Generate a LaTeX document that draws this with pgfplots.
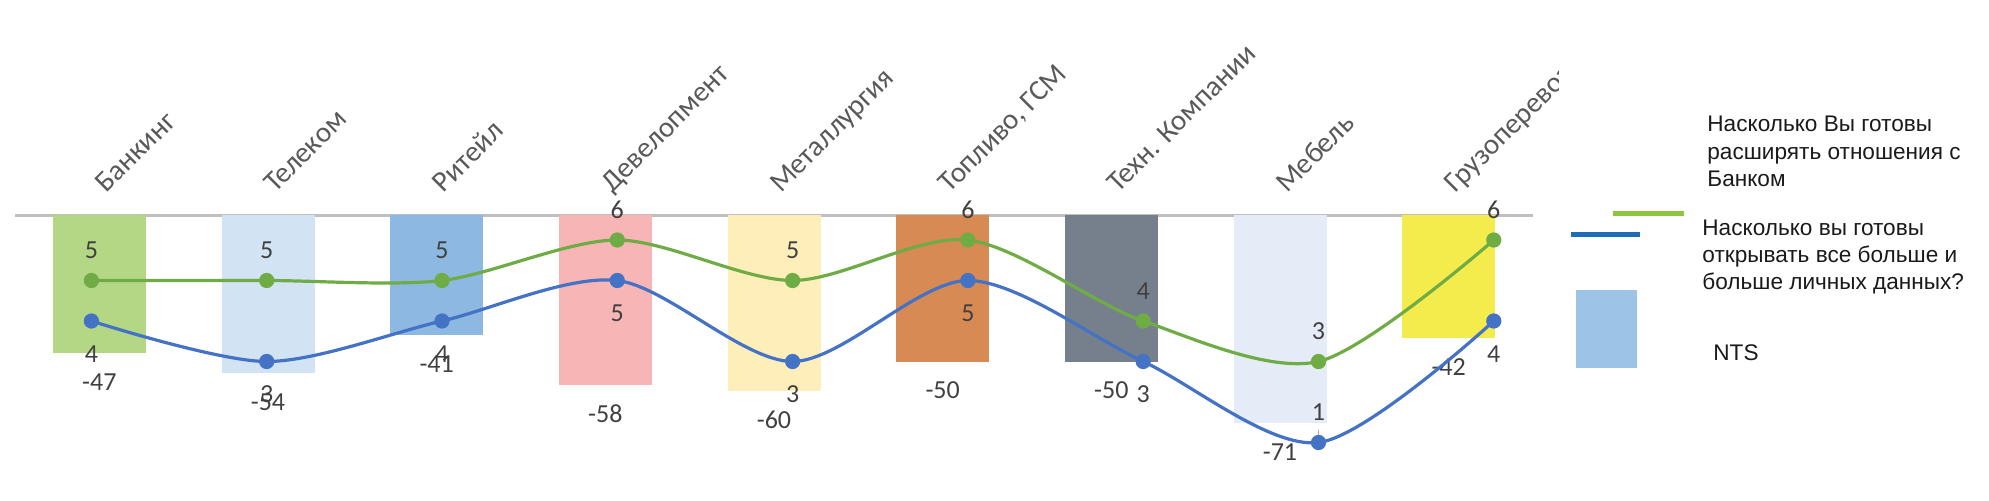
\documentclass[border=0pt]{standalone}
\usepackage{fontspec}
\setmainfont{Carlito}
\newfontfamily\legfont{Liberation Sans}
\usepackage{pgfplots}
\pgfplotsset{compat=1.18}

\definecolor{cBank}{HTML}{B4D786}
\definecolor{cTel}{HTML}{D2E4F4}
\definecolor{cRet}{HTML}{8DB8E2}
\definecolor{cDev}{HTML}{F7B6B5}
\definecolor{cMet}{HTML}{FEEEBA}
\definecolor{cFuel}{HTML}{D88A55}
\definecolor{cTech}{HTML}{76808C}
\definecolor{cFurn}{HTML}{E6ECF7}
\definecolor{cCargo}{HTML}{F4EC4C}
\definecolor{lgreen}{HTML}{6FAC46}
\definecolor{lblue}{HTML}{4472C4}
\definecolor{axgray}{HTML}{BFBFBF}
\definecolor{labgray}{HTML}{595959}
\definecolor{numgray}{HTML}{404040}
\definecolor{leggreen}{HTML}{8DC63F}
\definecolor{legblue}{HTML}{1F6EB5}
\definecolor{legbox}{HTML}{9DC3E6}
\definecolor{legtext}{HTML}{1A1A1A}

\pgfplotstableread{
x y l
0 -47 -47
1 -54 -54
2 -41 -41
3 -58 -58
4 -60 -60
5 -50 -50
6 -50 -50
7 -71 -71
8 -42 -42
}\ntsdata

\pgfplotstableread{
x y l
0 5 5
1 5 5
2 5 5
3 6 6
4 5 5
5 6 6
6 4 4
7 3 3
8 6 6
}\greendata

\pgfplotstableread{
x y l
0 4 4
1 3 3
2 4 4
3 5 5
4 3 3
5 5 5
6 3 3
7 1 1
8 4 4
}\bluedata

\pgfplotstableread{
x y l
0 4 4
1 3 3
2 4 4
3 5 5
4 3 3
5 5 5
6 3 3
8 4 4
}\bluebelow

\pgfplotstableread{
x y l
7 1 1
}\blueabove

\begin{document}
\begin{tikzpicture}
\path[use as bounding box] (0,0) rectangle (994.5pt,250pt);
\begin{scope}
\clip (0,0) rectangle (779pt,250pt);
\begin{axis}[
  at={(7.5pt,10.65pt)}, anchor=south west,
  scale only axis, width=759pt, height=131.85pt,
  xmin=-0.5, xmax=8.5, ymin=-90, ymax=0,
  axis x line*=top, axis y line=none,
  x axis line style={draw=axgray, line width=1.5pt, -},
  xtick={0,...,8},
  xticklabels={Банкинг,Телеком,Ритейл,Девелопмент,Металлургия,{Топливо, ГСМ},{Техн. Компании},Мебель,Грузоперевозки},
  major tick length=0pt, ytick=\empty,
  xticklabel style={font=\fontsize{14.5pt}{17pt}\selectfont, text=labgray, inner sep=0pt, anchor=base west, xshift=3.5pt, yshift=10.5pt, rotate=45},
  clip=false,
]
\addplot[ybar, bar width=46.5pt, bar shift=0pt, fill=cBank, draw=none] coordinates {(0,-47)};
\addplot[ybar, bar width=46.5pt, bar shift=0pt, fill=cTel, draw=none] coordinates {(1,-54)};
\addplot[ybar, bar width=46.5pt, bar shift=0pt, fill=cRet, draw=none] coordinates {(2,-41)};
\addplot[ybar, bar width=46.5pt, bar shift=0pt, fill=cDev, draw=none] coordinates {(3,-58)};
\addplot[ybar, bar width=46.5pt, bar shift=0pt, fill=cMet, draw=none] coordinates {(4,-60)};
\addplot[ybar, bar width=46.5pt, bar shift=0pt, fill=cFuel, draw=none] coordinates {(5,-50)};
\addplot[ybar, bar width=46.5pt, bar shift=0pt, fill=cTech, draw=none] coordinates {(6,-50)};
\addplot[ybar, bar width=46.5pt, bar shift=0pt, fill=cFurn, draw=none] coordinates {(7,-71)};
\addplot[ybar, bar width=46.5pt, bar shift=0pt, fill=cCargo, draw=none] coordinates {(8,-42)};
\addplot[draw=none, mark=none, nodes near coords, point meta=explicit symbolic,
  every node near coord/.style={anchor=center, yshift=-14.5pt, font=\fontsize{13pt}{15pt}\selectfont, text=numgray, inner sep=0pt}]
  table[x=x, y=y, meta=l] {\ntsdata};
\end{axis}
\end{scope}

\begin{axis}[
  at={(45.7pt,8.5pt)}, anchor=south west,
  scale only axis, width=701.2pt, height=121.5pt,
  xmin=0, xmax=8, ymin=0, ymax=6,
  hide axis, clip=false,
]
\addplot[smooth, color=lgreen, line width=1.6pt, mark=*, mark size=3pt, mark options={fill=lgreen, draw=lgreen}] table[x=x, y=y] {\greendata};
\addplot[smooth, color=lblue, line width=1.6pt, mark=*, mark size=3pt, mark options={fill=lblue, draw=lblue}] table[x=x, y=y] {\bluedata};
\addplot[draw=none, mark=none, nodes near coords, point meta=explicit symbolic,
  every node near coord/.style={anchor=center, yshift=15pt, font=\fontsize{13pt}{15pt}\selectfont, text=numgray, inner sep=0pt}]
  table[x=x, y=y, meta=l] {\greendata};
\addplot[draw=none, mark=none, nodes near coords, point meta=explicit symbolic,
  every node near coord/.style={anchor=center, yshift=-16.5pt, font=\fontsize{13pt}{15pt}\selectfont, text=numgray, inner sep=0pt}]
  table[x=x, y=y, meta=l] {\bluebelow};
\addplot[draw=none, mark=none, nodes near coords, point meta=explicit symbolic,
  every node near coord/.style={anchor=center, yshift=15pt, font=\fontsize{13pt}{15pt}\selectfont, text=numgray, inner sep=0pt}]
  table[x=x, y=y, meta=l] {\blueabove};
\draw[numgray!45, line width=0.4pt] (axis cs:7,1.31) -- (axis cs:7,1.07);
\end{axis}

% legend
\draw[leggreen, line width=2.5pt] (806.5pt,143.5pt) -- (842pt,143.5pt);
\draw[legblue, line width=2.5pt] (785.5pt,133pt) -- (820pt,133pt);
\fill[legbox] (788pt,66pt) rectangle (818.5pt,105pt);
\begin{scope}[every node/.style={anchor=base west, inner sep=0pt, text=legtext, font=\legfont\fontsize{11.3pt}{13pt}\selectfont}]
\node at (853.5pt,184.15pt) {Насколько Вы готовы};
\node at (853.5pt,170.5pt) {расширять отношения с};
\node at (853.5pt,157pt) {Банком};
\node at (851pt,132.5pt) {Насколько вы готовы};
\node at (851pt,119pt) {открывать все больше и};
\node at (851pt,105.5pt) {больше личных данных?};
\node at (856.5pt,69.65pt) {NTS};
\end{scope}
\end{tikzpicture}
\end{document}
